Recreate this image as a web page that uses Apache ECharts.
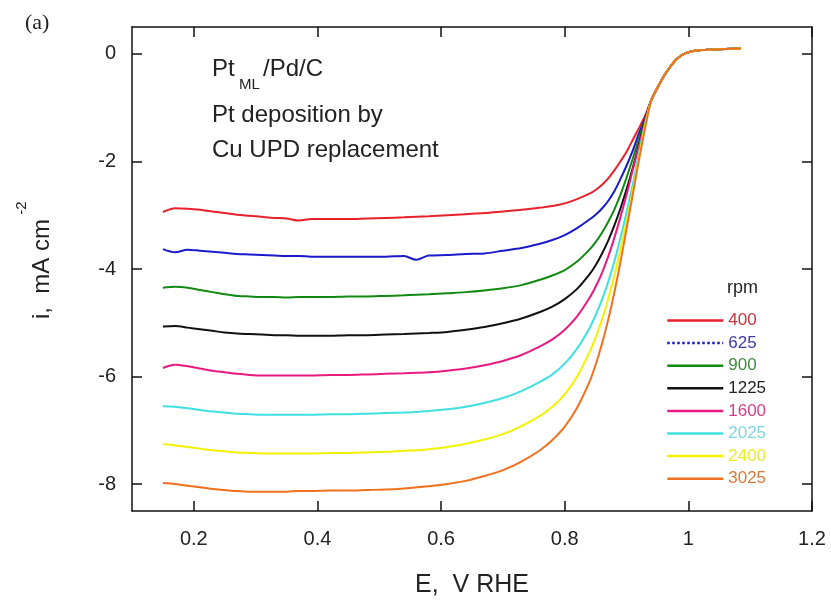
<!DOCTYPE html>
<html>
<head>
<meta charset="utf-8">
<script src="https://cdn.jsdelivr.net/npm/echarts@6/dist/echarts.min.js"></script>
<style>html,body{margin:0;padding:0;background:#fff;}#c{width:831px;height:608px;}</style>
</head>
<body>
<div id="c"></div>
<script>
// Potential (V vs RHE) shared by all sweeps up to the convergence point
var E = [0.15,0.17,0.19,0.21,0.23,0.25,0.27,0.29,0.31,0.33,0.35,0.37,0.39,0.42,0.45,0.48,0.51,0.54,0.56,0.58,0.61,0.64,0.67,0.70,0.73,0.76,0.78,0.80,0.82,0.84,0.85,0.86,0.87,0.88,0.89,0.90,0.91,0.92,0.93];
// Common tail after all curves merge
var tailE = [0.94,0.95,0.96,0.97,0.98,0.99,1.00,1.01,1.02,1.04,1.06,1.085];
var tailI = [-0.86,-0.63,-0.42,-0.25,-0.11,-0.02,0.03,0.06,0.07,0.08,0.09,0.10];

var rpm = ['400','625','900','1225','1600','2025','2400','3025'];

var i400  = [-2.94,-2.87,-2.88,-2.90,-2.93,-2.96,-2.99,-3.01,-3.03,-3.05,-3.06,-3.10,-3.07,-3.07,-3.07,-3.06,-3.05,-3.04,-3.03,-3.02,-3.00,-2.98,-2.96,-2.93,-2.90,-2.86,-2.83,-2.78,-2.70,-2.60,-2.53,-2.44,-2.32,-2.17,-2.00,-1.82,-1.60,-1.38,-1.15];
var i625  = [-3.63,-3.69,-3.64,-3.66,-3.68,-3.70,-3.72,-3.73,-3.74,-3.75,-3.76,-3.76,-3.77,-3.77,-3.77,-3.77,-3.77,-3.76,-3.83,-3.75,-3.74,-3.72,-3.71,-3.66,-3.61,-3.53,-3.46,-3.37,-3.24,-3.08,-2.99,-2.88,-2.74,-2.56,-2.33,-2.08,-1.80,-1.48,-1.20];
var i900  = [-4.35,-4.33,-4.35,-4.39,-4.43,-4.47,-4.50,-4.51,-4.52,-4.52,-4.53,-4.52,-4.52,-4.52,-4.51,-4.51,-4.50,-4.49,-4.48,-4.47,-4.45,-4.43,-4.40,-4.36,-4.30,-4.20,-4.12,-4.02,-3.86,-3.64,-3.50,-3.33,-3.13,-2.90,-2.62,-2.30,-1.95,-1.58,-1.22];
var i1225 = [-5.07,-5.06,-5.09,-5.12,-5.15,-5.18,-5.20,-5.21,-5.22,-5.23,-5.23,-5.24,-5.24,-5.24,-5.23,-5.23,-5.22,-5.21,-5.20,-5.19,-5.17,-5.13,-5.08,-5.01,-4.92,-4.80,-4.70,-4.56,-4.37,-4.10,-3.93,-3.72,-3.48,-3.20,-2.88,-2.52,-2.12,-1.68,-1.25];
var i1600 = [-5.84,-5.78,-5.81,-5.85,-5.89,-5.92,-5.95,-5.97,-5.98,-5.98,-5.98,-5.98,-5.98,-5.97,-5.97,-5.96,-5.95,-5.94,-5.93,-5.92,-5.89,-5.85,-5.79,-5.71,-5.60,-5.44,-5.31,-5.13,-4.88,-4.54,-4.33,-4.08,-3.78,-3.43,-3.04,-2.62,-2.16,-1.71,-1.27];
var i2025 = [-6.55,-6.56,-6.59,-6.62,-6.65,-6.67,-6.69,-6.70,-6.71,-6.71,-6.71,-6.71,-6.71,-6.70,-6.70,-6.69,-6.68,-6.67,-6.66,-6.64,-6.61,-6.56,-6.49,-6.40,-6.27,-6.10,-5.96,-5.76,-5.48,-5.10,-4.86,-4.58,-4.25,-3.87,-3.43,-2.95,-2.43,-1.85,-1.30];
var i2400 = [-7.26,-7.28,-7.31,-7.34,-7.37,-7.39,-7.41,-7.42,-7.43,-7.43,-7.43,-7.43,-7.43,-7.42,-7.42,-7.41,-7.40,-7.38,-7.37,-7.35,-7.31,-7.25,-7.17,-7.07,-6.92,-6.73,-6.56,-6.33,-6.00,-5.55,-5.27,-4.95,-4.57,-4.14,-3.65,-3.12,-2.55,-1.93,-1.33];
var i3025 = [-7.98,-8.00,-8.03,-8.06,-8.09,-8.11,-8.13,-8.14,-8.14,-8.14,-8.14,-8.13,-8.13,-8.12,-8.12,-8.11,-8.10,-8.08,-8.06,-8.04,-8.00,-7.94,-7.85,-7.74,-7.58,-7.37,-7.18,-6.93,-6.58,-6.10,-5.78,-5.40,-4.96,-4.45,-3.88,-3.25,-2.62,-1.98,-1.38];

var xTicks = [0.2,0.4,0.6,0.8,1.0,1.2];
var yTicks = [-8,-6,-4,-2,0];

var values = [i400,i625,i900,i1225,i1600,i2025,i2400,i3025];
var colors = ['#e8202a','#1a1acc','#118a11','#111111','#e8197f','#3fe0e0','#f2f200','#f0701e'];
var textColors = ['#c9313b','#3a3aa8','#3f8a3f','#222222','#d0408a','#7fd8e0','#eaea30','#d87a3a'];

function pairs(arr){
  var out = [];
  for (var k=0;k<E.length;k++) out.push([E[k], arr[k]]);
  for (var t=0;t<tailE.length;t++) out.push([tailE[t], tailI[t]]);
  return out;
}

var FONT = 'Liberation Sans, Arial, Helvetica, sans-serif';

var series = rpm.map(function(name, idx){
  return {
    name: name, type: 'line', data: pairs(values[idx]),
    symbol: 'none', showSymbol: false, smooth: 0.3,
    lineStyle: {color: colors[idx], width: 2},
    itemStyle: {color: colors[idx]},
    xAxisIndex: 0, yAxisIndex: 0, z: 2 + idx
  };
});

var legendData = rpm.map(function(name, idx){
  var d = {name: name, textStyle: {color: textColors[idx]}, itemStyle: {opacity: 0}, lineStyle: {width: 2.5}};
  if (name === '625') d.lineStyle = {type: 'dotted', width: 2.5};
  return d;
});

var tickStyle = {color: '#111', width: 1.5};
var lineAx = {show: true, onZero: false, lineStyle: {color: '#111', width: 1.5}};

var chart = echarts.init(document.getElementById('c'), null, {renderer: 'canvas'});
chart.setOption({
  animation: false,
  backgroundColor: '#fff',
  grid: {left: 132, right: 19, top: 27, bottom: 97, containLabel: false},
  xAxis: [
    {type: 'value', position: 'bottom', min: 0.1, max: 1.2, axisLine: lineAx, splitLine: {show: false},
      axisTick: {show: true, inside: true, length: 10, customValues: xTicks, lineStyle: tickStyle},
      axisLabel: {customValues: xTicks, margin: 18, fontSize: 20, color: '#222', fontFamily: FONT},
      name: 'E,  V RHE', nameLocation: 'middle', nameGap: 62,
      nameTextStyle: {fontSize: 25, color: '#222', fontFamily: FONT}},
    {type: 'value', position: 'top', min: 0.1, max: 1.2, axisLine: lineAx, splitLine: {show: false},
      axisTick: {show: true, inside: true, length: 10, customValues: xTicks, lineStyle: tickStyle},
      axisLabel: {show: false}}
  ],
  yAxis: [
    {type: 'value', position: 'left', min: -8.5, max: 0.5, axisLine: lineAx, splitLine: {show: false},
      axisTick: {show: true, inside: true, length: 10, customValues: yTicks, lineStyle: tickStyle},
      axisLabel: {customValues: yTicks, margin: 16, fontSize: 20, color: '#222', fontFamily: FONT},
      name: 'i,  mA cm', nameLocation: 'middle', nameGap: 78, nameRotate: 90,
      nameTextStyle: {fontSize: 24, color: '#222', fontFamily: FONT}},
    {type: 'value', position: 'right', min: -8.5, max: 0.5, axisLine: lineAx, splitLine: {show: false},
      axisTick: {show: true, inside: true, length: 10, customValues: yTicks, lineStyle: tickStyle},
      axisLabel: {show: false}}
  ],
  legend: {
    show: true,
    orient: 'vertical', left: 666, top: 312, padding: 0,
    itemWidth: 56, itemHeight: 14, itemGap: 5.6,
    textStyle: {fontSize: 17, fontFamily: FONT, lineHeight: 14},
    itemStyle: {opacity: 0},
    data: legendData,
    selectedMode: false
  },
  graphic: [
    {type: 'text', left: 25, top: 12, style: {text: '(a)', fontSize: 22, fontFamily: 'Liberation Serif, Times New Roman, serif', fill: '#222'}},
    {type: 'text', x: 212, y: 69, style: {text: 'Pt', fontSize: 24, fontFamily: FONT, fill: '#222', verticalAlign: 'middle'}},
    {type: 'text', x: 239, y: 85, style: {text: 'ML', fontSize: 15, fontFamily: FONT, fill: '#222', verticalAlign: 'middle'}},
    {type: 'text', x: 263, y: 69, style: {text: '/Pd/C', fontSize: 24, fontFamily: FONT, fill: '#222', verticalAlign: 'middle'}},
    {type: 'text', x: 212, y: 115, style: {text: 'Pt deposition by', fontSize: 24, fontFamily: FONT, fill: '#222', verticalAlign: 'middle'}},
    {type: 'text', x: 212, y: 150, style: {text: 'Cu UPD replacement', fontSize: 24, fontFamily: FONT, fill: '#222', verticalAlign: 'middle'}},
    {type: 'text', x: 22, y: 208, rotation: Math.PI / 2, style: {text: '-2', fontSize: 15, fontFamily: FONT, fill: '#222', align: 'center', verticalAlign: 'middle'}},
    {type: 'text', x: 727, y: 288, style: {text: 'rpm', fontSize: 18, fontFamily: FONT, fill: '#222', verticalAlign: 'middle'}}
  ],
  series: series
});
</script>
</body>
</html>
